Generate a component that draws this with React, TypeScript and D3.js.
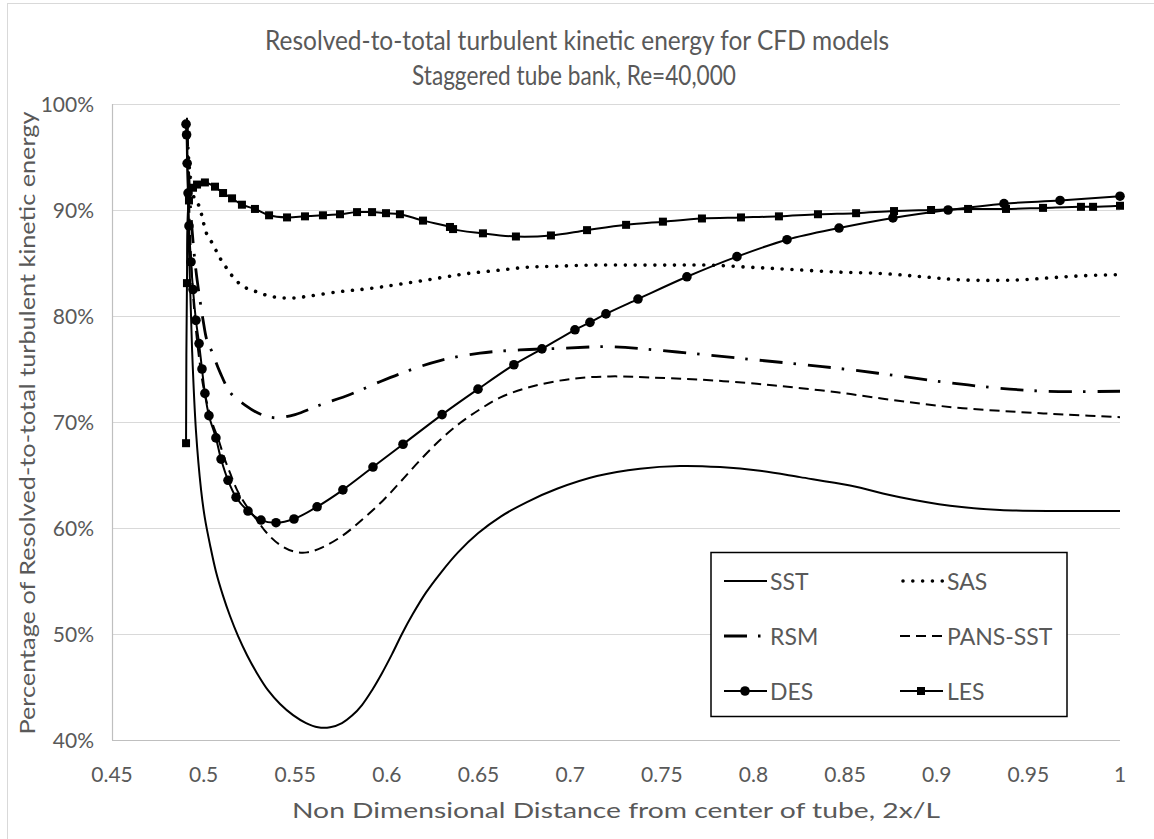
import React from "react";
import * as d3 from "d3";

// Axis ticks
const xTicks = [0.45, 0.5, 0.55, 0.6, 0.65, 0.7, 0.75, 0.8, 0.85, 0.9, 0.95, 1];
const xTickLabels = ["0.45", "0.5", "0.55", "0.6", "0.65", "0.7", "0.75", "0.8", "0.85", "0.9", "0.95", "1"];
const yTicks = [40, 50, 60, 70, 80, 90, 100];
const yTickLabels = ["40%", "50%", "60%", "70%", "80%", "90%", "100%"];

// SST
const sstX = [0.4909, 0.492, 0.4937, 0.4958, 0.4986, 0.5007, 0.5035, 0.5067, 0.5106, 0.5144, 0.5188, 0.5237, 0.5291, 0.5351, 0.5417, 0.5488, 0.5559, 0.5624, 0.569, 0.5755, 0.581, 0.5864, 0.5919, 0.5973, 0.6028, 0.6082, 0.6142, 0.6213, 0.6295, 0.6388, 0.6497, 0.6623, 0.6764, 0.6928, 0.7146, 0.7381, 0.7599, 0.7818, 0.8036, 0.8254, 0.8527, 0.88, 0.9073, 0.9345, 0.9673, 1.0];
const sstY = [98.7, 86.2, 76.8, 69.2, 63.6, 60.9, 58.4, 55.9, 53.6, 51.7, 49.8, 48.0, 46.3, 44.7, 43.4, 42.35, 41.6, 41.2, 41.2, 41.6, 42.3, 43.3, 44.7, 46.3, 48.1, 50.0, 51.9, 53.9, 55.8, 57.7, 59.5, 61.1, 62.45, 63.7, 64.9, 65.6, 65.85, 65.75, 65.4, 64.8, 64.0, 62.9, 62.1, 61.7, 61.6, 61.6];

// SAS
const sasX = [0.4909, 0.4926, 0.4953, 0.4975, 0.4991, 0.5002, 0.5018, 0.5046, 0.5073, 0.5095, 0.5122, 0.5155, 0.5193, 0.5237, 0.5286, 0.5335, 0.5384, 0.5438, 0.5493, 0.5744, 0.5908, 0.6071, 0.629, 0.6437, 0.6601, 0.6764, 0.6928, 0.7125, 0.7343, 0.7561, 0.7763, 0.7981, 0.82, 0.8456, 0.8707, 0.8925, 0.9143, 0.9438, 0.9618, 0.9798, 1.0];
const sasY = [97.7, 93.3, 90.9, 90.4, 89.4, 88.6, 87.7, 86.9, 86.0, 85.3, 84.6, 83.8, 83.1, 82.6, 82.3, 82.0, 81.8, 81.7, 81.7, 82.3, 82.6, 83.0, 83.6, 84.0, 84.3, 84.6, 84.7, 84.8, 84.8, 84.8, 84.8, 84.6, 84.4, 84.15, 84.0, 83.7, 83.4, 83.4, 83.6, 83.8, 83.9];

// RSM
const rsmX = [0.4909, 0.492, 0.4937, 0.4958, 0.498, 0.4997, 0.5018, 0.5046, 0.5089, 0.5149, 0.5226, 0.5308, 0.5389, 0.5499, 0.5635, 0.5799, 0.5962, 0.6126, 0.629, 0.6508, 0.6726, 0.6945, 0.7217, 0.749, 0.7763, 0.8019, 0.8281, 0.8543, 0.881, 0.9072, 0.9334, 0.9602, 1.0];
const rsmY = [98.2, 92.8, 88.1, 84.3, 81.5, 79.6, 77.7, 76.6, 74.7, 72.7, 71.6, 70.75, 70.4, 70.7, 71.6, 72.6, 73.8, 74.9, 75.8, 76.5, 76.8, 76.95, 77.1, 76.75, 76.3, 75.85, 75.4, 74.9, 74.3, 73.7, 73.2, 72.9, 72.9];

// PANS-SST
const pansX = [0.4909, 0.492, 0.4937, 0.4958, 0.498, 0.5002, 0.5024, 0.5051, 0.5078, 0.5111, 0.5144, 0.5182, 0.5237, 0.5291, 0.5346, 0.5417, 0.5488, 0.5564, 0.5651, 0.576, 0.5869, 0.5979, 0.6071, 0.6181, 0.629, 0.6399, 0.6508, 0.6617, 0.6781, 0.6999, 0.7217, 0.7436, 0.7708, 0.8019, 0.82, 0.8456, 0.8707, 0.8925, 0.9143, 0.9438, 0.9711, 1.0];
const pansY = [98.2, 90.9, 83.4, 78.7, 75.4, 73.0, 71.4, 69.7, 68.5, 66.7, 65.2, 63.6, 62.0, 60.75, 59.5, 58.4, 57.8, 57.7, 58.2, 59.3, 60.85, 62.6, 64.3, 66.4, 68.3, 69.9, 71.2, 72.3, 73.3, 74.05, 74.3, 74.2, 74.0, 73.6, 73.3, 72.8, 72.2, 71.7, 71.3, 70.95, 70.7, 70.45];

// DES
const desX = [0.4904, 0.4907, 0.491, 0.4915, 0.492, 0.4931, 0.4942, 0.4958, 0.4975, 0.4991, 0.5007, 0.5029, 0.5067, 0.5095, 0.5133, 0.5177, 0.5242, 0.5313, 0.5395, 0.5493, 0.5619, 0.576, 0.5924, 0.6088, 0.6301, 0.6497, 0.6693, 0.6846, 0.7026, 0.7108, 0.7195, 0.737, 0.7637, 0.791, 0.8183, 0.8467, 0.8761, 0.9062, 0.9367, 0.9673, 1.0];
const desY = [98.1, 97.1, 94.4, 91.6, 88.5, 85.1, 82.5, 79.6, 77.4, 75.0, 72.7, 70.6, 68.5, 66.5, 64.5, 62.9, 61.6, 60.75, 60.5, 60.85, 62.0, 63.6, 65.75, 67.9, 70.7, 73.1, 75.4, 76.9, 78.7, 79.4, 80.2, 81.6, 83.7, 85.6, 87.2, 88.3, 89.25, 90.0, 90.6, 90.9, 91.3];

// LES
const lesX = [0.4904, 0.4909, 0.492, 0.4942, 0.4964, 0.5007, 0.5062, 0.5106, 0.5155, 0.5209, 0.528, 0.5357, 0.5455, 0.5553, 0.5651, 0.5744, 0.5837, 0.5919, 0.5995, 0.6071, 0.6197, 0.6344, 0.6361, 0.6524, 0.6704, 0.6895, 0.7092, 0.7305, 0.7506, 0.7719, 0.7932, 0.8139, 0.8352, 0.856, 0.8767, 0.8969, 0.9171, 0.9378, 0.958, 0.9787, 0.9853, 1.0];
const lesY = [68.0, 83.1, 90.9, 92.1, 92.4, 92.6, 92.2, 91.6, 91.1, 90.5, 90.1, 89.5, 89.3, 89.4, 89.5, 89.6, 89.8, 89.8, 89.7, 89.6, 89.0, 88.4, 88.2, 87.8, 87.5, 87.6, 88.1, 88.6, 88.9, 89.2, 89.3, 89.4, 89.6, 89.7, 89.9, 90.0, 90.1, 90.1, 90.2, 90.3, 90.3, 90.4];

const W = 1154;
const H = 839;
const TEXT = "#595959";
const GRID = "#d9d9d9";
const FONT = "Lato, 'Open Sans', sans-serif";

type Marker = "none" | "circle" | "square";
interface Series {
  name: string;
  xs: number[];
  ys: number[];
  width: number;
  dash?: string;
  cap?: "butt" | "round";
  marker: Marker;
}

const series: Series[] = [
  { name: "SST", xs: sstX, ys: sstY, width: 2, marker: "none" },
  { name: "SAS", xs: sasX, ys: sasY, width: 3.6, dash: "0.01 9.8", cap: "round", marker: "none" },
  { name: "RSM", xs: rsmX, ys: rsmY, width: 2.8, dash: "23 11 2.5 12", marker: "none" },
  { name: "PANS-SST", xs: pansX, ys: pansY, width: 2, dash: "10 6", marker: "none" },
  { name: "DES", xs: desX, ys: desY, width: 2, marker: "circle" },
  { name: "LES", xs: lesX, ys: lesY, width: 2, marker: "square" },
];

const x = d3.scaleLinear().domain([0.45, 1]).range([112, 1120]);
const y = d3.scaleLinear().domain([40, 100]).range([740, 104]);

// Smoothed lines through every sample
const line = d3
  .line<[number, number]>()
  .x((d) => x(d[0]))
  .y((d) => y(d[1]))
  .curve(d3.curveCatmullRom.alpha(0.5));

function MarkerShape({ kind, cx, cy }: { kind: Marker; cx: number; cy: number }) {
  if (kind === "circle") return <circle cx={cx} cy={cy} r={4.8} fill="#000" />;
  if (kind === "square") return <rect x={cx - 4} y={cy - 4} width={8} height={8} fill="#000" />;
  return null;
}

export default function App() {
  const legendRows = [581, 636, 691];
  const legendCols = [
    { lx: 724, tx: 770 },
    { lx: 900, tx: 947 },
  ];
  return (
    <div style={{ position: "absolute", left: 0, top: 0 }}>
      <svg width={W} height={H} style={{ display: "block", background: "#fff" }} fontFamily={FONT}>
        <rect x={7.5} y={3.5} width={1200} height={900} fill="#fff" stroke={GRID} strokeWidth={1} />

        {/* Title */}
        <text x={577} y={50} textAnchor="middle" fontSize={26} fill={TEXT} textLength={624} lengthAdjust="spacingAndGlyphs">
          Resolved-to-total turbulent kinetic energy for CFD models
        </text>
        <text x={574} y={85} textAnchor="middle" fontSize={26} fill={TEXT} textLength={324} lengthAdjust="spacingAndGlyphs">
          Staggered tube bank, Re=40,000
        </text>

        {/* Horizontal gridlines */}
        {yTicks.map((t) =>
          t > 40 ? (
            <line key={t} x1={x(0.45)} x2={x(1)} y1={y(t) + 0.5} y2={y(t) + 0.5} stroke={GRID} strokeWidth={1.2} />
          ) : null
        )}
        {/* Axes */}
        <line x1={x(0.45)} x2={x(1)} y1={y(40) + 0.5} y2={y(40) + 0.5} stroke="#bfbfbf" strokeWidth={1.2} />
        <line x1={x(0.45) + 0.5} x2={x(0.45) + 0.5} y1={y(100)} y2={y(40)} stroke="#bfbfbf" strokeWidth={1.2} />

        {/* Y tick labels */}
        {yTicks.map((t, i) => (
          <text key={t} x={94} y={y(t) + 7.5} textAnchor="end" fontSize={21} fill={TEXT}>
            {yTickLabels[i]}
          </text>
        ))}
        {/* X tick labels */}
        {xTicks.map((t, i) => (
          <text key={t} x={x(t)} y={782} textAnchor="middle" fontSize={21} fill={TEXT}>
            {xTickLabels[i]}
          </text>
        ))}

        {/* Axis titles */}
        <text x={616} y={818} textAnchor="middle" fontSize={21} fill={TEXT} textLength={648} lengthAdjust="spacingAndGlyphs">
          Non Dimensional Distance from center of tube, 2x/L
        </text>
        <text
          transform="translate(35,423) rotate(-90)"
          textAnchor="middle"
          fontSize={21}
          fill={TEXT}
          textLength={623}
          lengthAdjust="spacingAndGlyphs"
        >
          Percentage of Resolved-to-total turbulent kinetic energy
        </text>

        {/* Series */}
        {series.map((s) => {
          const pts = s.xs.map((v, i) => [v, s.ys[i]] as [number, number]);
          return (
            <g key={s.name}>
              <path
                d={line(pts) || ""}
                fill="none"
                stroke="#000"
                strokeWidth={s.width}
                strokeDasharray={s.dash}
                strokeLinecap={s.cap || "butt"}
                strokeLinejoin="round"
              />
              {s.marker !== "none" &&
                pts.map((p, i) => <MarkerShape key={i} kind={s.marker} cx={x(p[0])} cy={y(p[1])} />)}
            </g>
          );
        })}

        {/* Legend */}
        <rect x={711} y={552.5} width={356} height={164} fill="#fff" stroke="#000" strokeWidth={1.5} />
        {series.map((s, i) => {
          const col = legendCols[i % 2];
          const row = legendRows[Math.floor(i / 2)];
          const offset = s.cap === "round" ? 3 : 0;
          return (
            <g key={s.name}>
              <line
                x1={col.lx + offset}
                x2={col.lx + 43}
                y1={row}
                y2={row}
                stroke="#000"
                strokeWidth={s.width}
                strokeDasharray={s.dash}
                strokeLinecap={s.cap || "butt"}
              />
              <MarkerShape kind={s.marker} cx={col.lx + 21} cy={row} />
              <text x={col.tx} y={row + 8.5} fontSize={23} fill={TEXT}>
                {s.name}
              </text>
            </g>
          );
        })}
      </svg>
    </div>
  );
}
